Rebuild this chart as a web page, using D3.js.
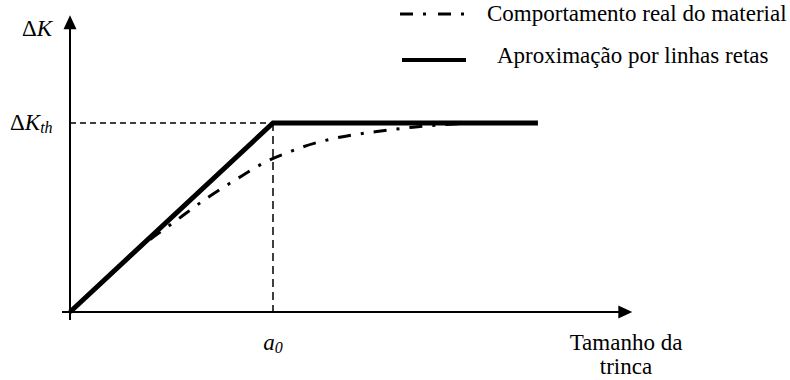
<!DOCTYPE html>
<html>
<head>
    <meta charset="utf-8">
    <script src="https://d3js.org/d3.v7.min.js"></script>
    <style>
        body { margin: 0; background: #fff; }
        svg text { font-family: "Times New Roman", Times, "Liberation Serif", "DejaVu Serif", "Noto Serif", serif; }
    </style>
</head>
<body>
    <svg width="790" height="380"></svg>
    <script>
        // Dados (unidades: a / a0 e ΔK / ΔKth)
        const realX = [0, 0.15, 0.36, 0.507, 0.675, 0.813, 0.975, 1.084, 1.143, 1.315, 1.512, 1.69, 1.872, 1.97];
        const realY = [0, 0.148, 0.355, 0.471, 0.603, 0.698, 0.8, 0.848, 0.872, 0.922, 0.955, 0.978, 0.994, 1.0];
        const approxX = [0, 1, 2.305];
        const approxY = [0, 1, 1];
        const a0 = 1;
        const dKth = 1;
        const xAxisEnd = 2.77;
        const yAxisEnd = 1.57;
        const legendLabels = ["Comportamento real do material", "Aproximação por linhas retas"];

        const svg = d3.select("svg");
        const x = d3.scaleLinear().domain([0, 1]).range([70, 273]);
        const y = d3.scaleLinear().domain([0, 1]).range([312, 123]);

        // linhas tracejadas de referência
        svg.append("line")
            .attr("x1", x(0)).attr("x2", x(a0))
            .attr("y1", y(dKth)).attr("y2", y(dKth))
            .attr("stroke", "#000").attr("stroke-width", 1.5)
            .attr("stroke-dasharray", "6,4");
        svg.append("line")
            .attr("x1", x(a0)).attr("x2", x(a0))
            .attr("y1", y(dKth)).attr("y2", y(0))
            .attr("stroke", "#000").attr("stroke-width", 1.5)
            .attr("stroke-dasharray", "8,5");

        // eixos
        svg.append("line")
            .attr("x1", x(0) - 8).attr("x2", x(xAxisEnd) - 10)
            .attr("y1", y(0)).attr("y2", y(0))
            .attr("stroke", "#000").attr("stroke-width", 2);
        svg.append("path")
            .attr("d", `M${x(xAxisEnd)},${y(0)} L${x(xAxisEnd) - 14},${y(0) - 6.5} L${x(xAxisEnd) - 14},${y(0) + 6.5}Z`);
        svg.append("line")
            .attr("x1", x(0)).attr("x2", x(0))
            .attr("y1", y(0) + 8).attr("y2", y(yAxisEnd) + 10)
            .attr("stroke", "#000").attr("stroke-width", 2);
        svg.append("path")
            .attr("d", `M${x(0)},${y(yAxisEnd)} L${x(0) - 6.5},${y(yAxisEnd) + 14} L${x(0) + 6.5},${y(yAxisEnd) + 14}Z`);

        // comportamento real (traço-ponto)
        svg.append("path")
            .datum(d3.zip(realX, realY))
            .attr("d", d3.line().x(d => x(d[0])).y(d => y(d[1])).curve(d3.curveMonotoneX))
            .attr("fill", "none").attr("stroke", "#000").attr("stroke-width", 3)
            .attr("stroke-dasharray", "13,10,3,10");

        // aproximação por linhas retas
        svg.append("path")
            .datum(d3.zip(approxX, approxY))
            .attr("d", d3.line().x(d => x(d[0])).y(d => y(d[1])))
            .attr("fill", "none").attr("stroke", "#000").attr("stroke-width", 5)
            .attr("stroke-linejoin", "miter");

        // rótulos
        const dk = svg.append("text").attr("x", 22).attr("y", 36).attr("font-size", 23);
        dk.append("tspan").text("Δ");
        dk.append("tspan").attr("font-style", "italic").text("K");

        const dkth = svg.append("text").attr("x", 10).attr("y", 130).attr("font-size", 23);
        dkth.append("tspan").text("Δ");
        dkth.append("tspan").attr("font-style", "italic").text("K");
        dkth.append("tspan").attr("font-style", "italic").attr("font-size", 16).attr("dy", 3).text("th");

        const a0t = svg.append("text").attr("x", x(a0)).attr("y", 350)
            .attr("text-anchor", "middle").attr("font-size", 23).attr("font-style", "italic");
        a0t.append("tspan").text("a");
        a0t.append("tspan").attr("font-size", 16).attr("dy", 3).text("0");

        svg.append("text").attr("x", 626).attr("y", 350).attr("text-anchor", "middle")
            .attr("font-size", 23).text("Tamanho da");
        svg.append("text").attr("x", 626).attr("y", 374).attr("text-anchor", "middle")
            .attr("font-size", 23).text("trinca");

        // legenda
        svg.append("line")
            .attr("x1", 400).attr("x2", 464).attr("y1", 14).attr("y2", 14)
            .attr("stroke", "#000").attr("stroke-width", 3)
            .attr("stroke-dasharray", "13,10,3,12");
        svg.append("text").attr("x", 487).attr("y", 21).attr("font-size", 23).text(legendLabels[0]);
        svg.append("line")
            .attr("x1", 402).attr("x2", 466).attr("y1", 60).attr("y2", 60)
            .attr("stroke", "#000").attr("stroke-width", 4);
        svg.append("text").attr("x", 497).attr("y", 63).attr("font-size", 23).text(legendLabels[1]);
    </script>
</body>
</html>
